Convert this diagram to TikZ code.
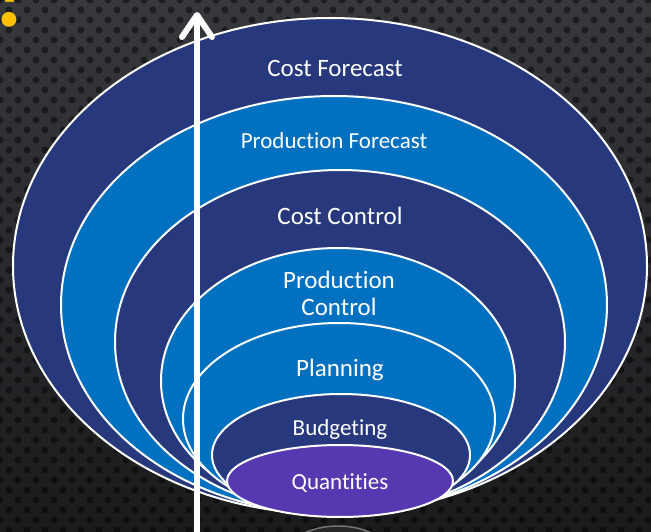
\documentclass[tikz,border=0pt]{standalone}
\usepackage{fontspec}
\setmainfont{Carlito}[Ligatures=NoCommon]
\usetikzlibrary{arrows.meta}

\definecolor{navyring}{HTML}{27387D}
\definecolor{bluering}{HTML}{0070C0}
\definecolor{purplering}{HTML}{5638B0}
\definecolor{bgtop}{HTML}{36383C}
\definecolor{bgbottom}{HTML}{1B1B1D}
\definecolor{quizyellow}{HTML}{FFC000}

\begin{document}
\begin{tikzpicture}[
    x=1pt, y=-1pt,
    ring/.style={
        fill=#1, draw=white, line width=2pt
    },
    ringlabel/.style={
        text=white, font=\fontsize{25}{27}\selectfont,
        align=center, inner sep=0pt
    },
    smalllabel/.style={
        ringlabel, font=\fontsize{23}{26}\selectfont
    },
    bgdot/.style={
        fill=black, opacity=0.45
    },
    risearrow/.style={
        draw=white, line width=6pt,
        -{Straight Barb[length=22pt, width=30pt, line cap=round, line join=round]}
    }
]

\useasboundingbox (0,0) rectangle (651,532);
\clip (0,0) rectangle (651,532);

% --- Background ---
\shade[top color=bgtop, bottom color=bgbottom] (0,0) rectangle (651,532);
\foreach \row in {0,...,54} {
    \foreach \col in {0,...,37} {
        \fill[bgdot] ({\col*18 + mod(\row,2)*9}, {\row*10}) circle (3.5);
    }
}

% --- Hidden base under the stack ---
\draw[draw=black!55, fill=black!85, line width=1.5pt]
    (338,560) ellipse [x radius=55, y radius=34];

% --- Rings, outermost first ---
\draw[ring=navyring]   (330,266) ellipse [x radius=317, y radius=248];
\draw[ring=bluering]   (334,305) ellipse [x radius=273, y radius=209];
\draw[ring=navyring]   (340,342) ellipse [x radius=225, y radius=172];
\draw[ring=bluering]   (338,381) ellipse [x radius=177, y radius=133];
\draw[ring=bluering]   (339,419) ellipse [x radius=156, y radius=96];
\draw[ring=navyring]   (341,455) ellipse [x radius=129, y radius=61];
\draw[ring=purplering] (340,481) ellipse [x radius=113, y radius=36];

% --- Ring labels ---
\node[ringlabel]  (costforecast) at (335,68)  {Cost Forecast};
\node[smalllabel] (prodforecast) at (334,141) {Production Forecast};
\node[ringlabel]  (costcontrol)  at (340,216) {Cost Control};
\node[ringlabel]  (prodcontrol)  at (339,293) {Production\\Control};
\node[ringlabel]  (planning)     at (340,370) {Planning};
\node[smalllabel] (budgeting)    at (340,429) {Budgeting};
\node[smalllabel] (quantities)   at (340,483) {Quantities};

% --- Rising arrow ---
\coordinate (arrowfoot) at (197,540);
\coordinate (arrowtip)  at (197,12);
\draw[risearrow] (arrowfoot) -- (arrowtip);

% --- Corner mark ---
\node[text=quizyellow, font=\bfseries\fontsize{100}{100}\selectfont,
      anchor=base, inner sep=0pt] (quizmark) at (12,27) {?};

\end{tikzpicture}
\end{document}
